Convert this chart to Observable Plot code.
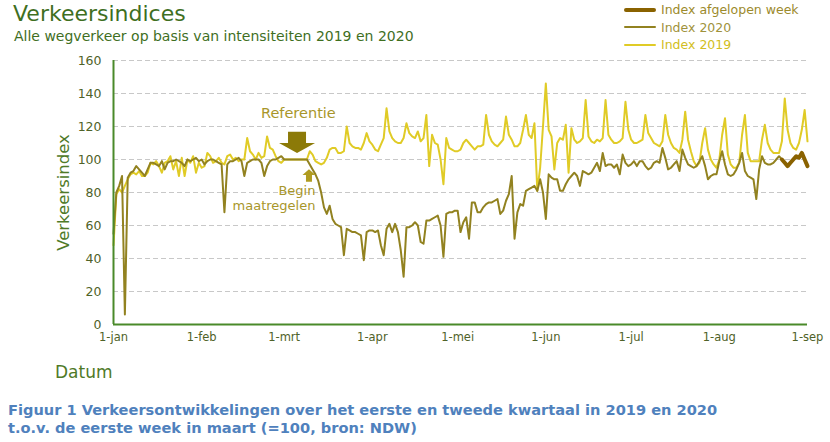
<!DOCTYPE html>
<html><head><meta charset="utf-8">
<script src="https://cdn.jsdelivr.net/npm/d3@7"></script>
<script src="https://cdn.jsdelivr.net/npm/@observablehq/plot@0.6"></script>
<style>
body{margin:0;background:#fff;font-family:"DejaVu Sans",Verdana,sans-serif;}
#wrap{position:relative;width:830px;height:442px;overflow:hidden;}
#chart{position:absolute;left:0;top:0;}
#title{position:absolute;left:13px;top:1px;font-size:22px;color:#3f6f1f;white-space:nowrap;}
#sub{position:absolute;left:14px;top:28px;font-size:14px;color:#3f6f1f;white-space:nowrap;}
#legend{position:absolute;left:624px;top:1px;font-size:12.5px;}
.li{height:17.5px;display:flex;align-items:center;white-space:nowrap;}
.sw{width:32px;margin-right:5px;}
#caption{position:absolute;left:8px;top:401px;font-size:14.6px;font-weight:bold;color:#4f81bd;line-height:18px;white-space:nowrap;}
</style></head><body>
<div id="wrap">
<div id="chart"></div>
<div id="title">Verkeersindices</div>
<div id="sub">Alle wegverkeer op basis van intensiteiten 2019 en 2020</div>
<div id="legend"></div>
<div id="caption">Figuur 1 Verkeersontwikkelingen over het eerste en tweede kwartaal in 2019 en 2020<br>t.o.v. de eerste week in maart (=100, bron: NDW)</div>
</div>
<script>
// ---- data (daily index, day 0 = 1 jan, last = 1 sep) ----
const index2019 = [
48,79,82,80,84,88,91,92,91,93,90,90,92,98,97,99,96,92,98,99,
102,94,99,90,101,90,100,98,102,92,98,95,96,104,102,98,99,101,98,97,
102,103,100,101,99,100,100,113,105,103,100,104,101,102,114,107,106,102,99,98,
100,100,100,100,100,100,100,100,100,105,103,99,98,97,98,101,106,107,107,104,
104,105,120,110,108,107,107,106,110,116,111,109,106,105,109,113,131,117,113,111,
110,110,113,122,116,114,113,117,111,113,127,96,115,110,109,100,85,113,107,106,
105,105,106,110,112,110,108,106,108,108,109,127,115,111,109,108,110,112,126,115,
112,108,108,110,118,127,115,113,122,81,95,120,146,118,114,94,110,113,112,121,
92,119,112,110,111,113,136,114,111,110,112,111,113,136,115,112,110,110,111,113,
135,118,112,110,110,111,112,127,116,113,110,109,108,111,127,115,110,107,106,104,
112,129,112,105,99,96,98,110,119,106,100,97,95,100,115,125,103,97,95,95,
98,115,127,104,99,99,99,99,112,121,110,106,104,104,104,111,137,118,110,107,
106,110,118,130,111
];
const index2020 = [
55,80,84,90,6,89,92,93,96,94,92,90,94,98,98,97,96,99,94,98,
99,99,100,99,98,96,100,99,100,101,99,100,97,99,100,100,99,98,97,68,
97,99,99,100,101,99,90,98,99,100,100,100,98,90,96,99,100,100,101,102,
100,100,100,100,100,100,100,100,100,97,94,91,87,80,71,67,72,64,61,60,
59,42,58,57,56,56,55,54,39,56,57,57,56,57,48,42,58,61,56,61,
56,45,29,59,59,60,62,60,50,49,63,63,64,65,66,60,41,67,68,68,
69,69,56,62,65,52,74,74,68,68,71,73,74,74,75,76,67,69,75,79,
90,52,68,73,72,81,82,83,84,81,88,80,64,91,89,88,88,81,81,85,
88,90,92,90,84,93,92,91,92,95,98,93,104,96,97,97,95,97,91,103,
98,96,97,99,96,99,99,96,94,95,98,99,98,107,101,94,95,97,99,93,
106,101,97,96,95,96,99,102,96,88,90,91,91,99,105,97,91,90,91,94,
98,104,93,90,89,88,76,94,102,98,97,97,98,100,102,100,98,96,98,100,
102,101,104,100,96
];
const lastWeekStart = 235; // dag-index waar "afgelopen week" begint
const monthTicks = ["2020-01-01","2020-02-01","2020-03-01","2020-04-01","2020-05-01","2020-06-01","2020-07-01","2020-08-01","2020-09-01"];
const monthLabels = ["1-jan","1-feb","1-mrt","1-apr","1-mei","1-jun","1-jul","1-aug","1-sep"];
const yTicks = [0,20,40,60,80,100,120,140,160];
const annotDay = [65, 71, 71];
const annotValue = [128, 81, 72];
const annotText = ["Referentie","Begin","maatregelen"];
const annotAnchor = ["middle","end","end"];
// arrows: [day, top value, neck value, tip value]
const refArrow = [64.7, 116.5, 109.7, 103.6];
const beginArrow = [68.9, 86.2, 90.3, 93.8];

const seriesNames = ["Index afgelopen week","Index 2020","Index 2019"];
const seriesColors = ["#8a6200","#928220","#e0cb26"];
const seriesWidths = [4,2,2];

// ---- build ----
const t0 = new Date(Date.UTC(2020,0,1));
const day = i => new Date(t0.getTime() + i*86400000);
const d2019 = index2019.map((v,i)=>({date:day(i), v}));
const d2020 = index2020.map((v,i)=>({date:day(i), v}));
const dWeek = d2020.slice(lastWeekStart);
const tickDates = monthTicks.map(s=>new Date(s+"T00:00:00Z"));
const labelOf = new Map(tickDates.map((d,i)=>[+d, monthLabels[i]]));
const annots = annotText.map((t,i)=>({date:day(annotDay[i]), v:annotValue[i], t, a:annotAnchor[i]}));

function arrowMark(spec, color, shaftHalf, headHalf){
  return (index, scales) => {
    const x = scales.x(day(spec[0]));
    const yA = scales.y(spec[1]), yN = scales.y(spec[2]), yT = scales.y(spec[3]);
    const p = document.createElementNS("http://www.w3.org/2000/svg","path");
    p.setAttribute("d", `M${x-shaftHalf},${yA}L${x+shaftHalf},${yA}L${x+shaftHalf},${yN}L${x+headHalf},${yN}L${x},${yT}L${x-headHalf},${yN}L${x-shaftHalf},${yN}Z`);
    p.setAttribute("fill", color);
    const g = document.createElementNS("http://www.w3.org/2000/svg","g");
    g.appendChild(p);
    return g;
  };
}

const chart = Plot.plot({
  width: 830, height: 390,
  marginLeft: 113, marginRight: 23, marginTop: 60, marginBottom: 66,
  style: {fontFamily: '"DejaVu Sans", Verdana, sans-serif', background: "transparent", overflow: "visible"},
  x: {type: "utc", domain: [tickDates[0], tickDates[tickDates.length-1]]},
  y: {domain: [0,160]},
  marks: [
    Plot.ruleY(yTicks.filter(d=>d>0), {stroke:"#c8c8c8", strokeDasharray:"5,3", strokeWidth:1.2}),
    Plot.line(d2019, {x:"date", y:"v", stroke:seriesColors[2], strokeWidth:seriesWidths[2]}),
    Plot.line(d2020, {x:"date", y:"v", stroke:seriesColors[1], strokeWidth:seriesWidths[1]}),
    Plot.line(dWeek, {x:"date", y:"v", stroke:seriesColors[0], strokeWidth:seriesWidths[0]}),
    Plot.ruleY([0], {stroke:"#4a8a2a", strokeWidth:2}),
    Plot.ruleX([tickDates[0]], {stroke:"#4a8a2a", strokeWidth:2}),
    Plot.axisY({ticks: yTicks, tickSize: 0, tickPadding: 12, fontSize: 12.5, fill:"#4f6228", label: null}),
    Plot.axisX({ticks: tickDates, tickSize: 0, tickPadding: 8, fontSize: 11.5, fill:"#4f6228", label: null, tickFormat: d => labelOf.get(+d)}),
    Plot.text(annots.slice(0,1), {x:"date", y:"v", text:"t", textAnchor:"middle", fill:"#a8962a", fontSize:14.5}),
    Plot.text(annots.slice(1), {x:"date", y:"v", text:"t", textAnchor:"end", fill:"#a8962a", fontSize:13}),
    arrowMark(refArrow, "#8c7a08", 9, 18),
    arrowMark(beginArrow, "#b09c20", 3, 6.5),
    Plot.text(["Verkeersindex"], {frameAnchor:"left", dx:-50, rotate:-90, textAnchor:"middle", fill:"#4f7a28", fontSize:16.5}),
    Plot.text(["Datum"], {frameAnchor:"bottom-left", dx:-1, dy:53, fill:"#4f7a28", fontSize:17, textAnchor:"end"})
  ]
});
document.getElementById("chart").appendChild(chart);

// legend
const lg = document.getElementById("legend");
seriesNames.forEach((n,i)=>{
  const row = document.createElement("div"); row.className="li";
  const sw = document.createElement("div"); sw.className="sw";
  sw.style.borderTop = seriesWidths[i]+"px solid "+seriesColors[i];
  sw.style.borderRadius = "2px";
  const lab = document.createElement("span"); lab.textContent = n;
  lab.style.color = i==0 ? "#9c8a2c" : (i==1 ? "#a0923c" : "#d2be22");
  row.appendChild(sw); row.appendChild(lab); lg.appendChild(row);
});
</script>
</body></html>
